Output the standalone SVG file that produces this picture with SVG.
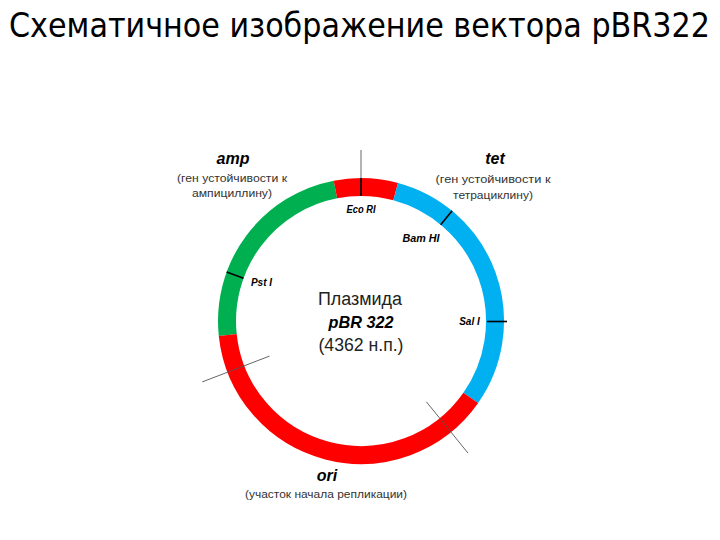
<svg xmlns="http://www.w3.org/2000/svg" width="720" height="540" viewBox="0 0 720 540">
<style>
.ring{fill:none;stroke-width:18}
.tick{stroke:#000;stroke-width:1.6}
.thin{stroke:#555;stroke-width:0.9}
.t{font-family:"Liberation Sans",Arial,sans-serif;fill:#222}
.bi{font-weight:bold;font-style:italic;fill:#000}
.s{font-size:11.5px;fill:#333}
.e{font-size:10px}
</style>
<rect width="720" height="540" fill="#fff"/>
<text x="9" y="37" font-family="DejaVu Sans Condensed, DejaVu Sans, sans-serif" font-size="34" fill="#000" textLength="701" lengthAdjust="spacingAndGlyphs">Схематичное изображение вектора pBR322</text>
<g id="plasmid">
<path class="ring" stroke="#00b050" d="M227.74,335 A134,134 0 0 1 335.43,189.46"/>
<path class="ring" stroke="#ff0000" d="M335.43,189.46 A134,134 0 0 1 395.68,191.57"/>
<path class="ring" stroke="#00b0f0" d="M395.68,191.57 A134,134 0 0 1 470.77,397.86"/>
<path class="ring" stroke="#ff0000" d="M470.77,397.86 A134,134 0 0 1 227.74,335"/>
</g>
<g id="connectors">
<line class="thin" x1="361" y1="150" x2="361" y2="196"/>
<line class="tick" x1="361" y1="178" x2="361" y2="196"/>
<line class="tick" x1="440.7" y1="224.7" x2="452.1" y2="210.8"/>
<line class="tick" x1="487" y1="321.5" x2="507" y2="321.5"/>
<line class="tick" x1="243.5" y1="278.3" x2="226.6" y2="272.1"/>
<line class="thin" x1="269.5" y1="356.1" x2="202.3" y2="381.9"/>
<line class="thin" x1="426.4" y1="401.8" x2="468" y2="453.1"/>
</g>
<g id="amp" class="t" text-anchor="middle">
<text class="bi" x="233" y="164" font-size="16">amp</text>
<text class="s" x="232" y="182" textLength="110" lengthAdjust="spacingAndGlyphs">(ген устойчивости к</text>
<text class="s" x="232" y="197" textLength="80" lengthAdjust="spacingAndGlyphs">ампициллину)</text>
</g>
<g id="tet" class="t" text-anchor="middle">
<text class="bi" x="495" y="164" font-size="16">tet</text>
<text class="s" x="493" y="183" textLength="115" lengthAdjust="spacingAndGlyphs">(ген устойчивости к</text>
<text class="s" x="493" y="199" textLength="80" lengthAdjust="spacingAndGlyphs">тетрациклину)</text>
</g>
<g id="ecori" class="t" text-anchor="middle"><text class="bi e" x="361" y="213" textLength="29" lengthAdjust="spacingAndGlyphs">Eco RI</text></g>
<g id="bamhi" class="t" text-anchor="middle"><text class="bi e" x="421" y="242" textLength="37" lengthAdjust="spacingAndGlyphs">Bam HI</text></g>
<g id="psti" class="t" text-anchor="middle"><text class="bi e" x="261.5" y="286">Pst I</text></g>
<g id="sali" class="t" text-anchor="middle"><text class="bi e" x="469.5" y="325">Sal I</text></g>
<g id="center" class="t" text-anchor="middle">
<text x="360" y="305" font-size="18" textLength="84" lengthAdjust="spacingAndGlyphs">Плазмида</text>
<text class="bi" x="361" y="328" font-size="17" textLength="65" lengthAdjust="spacingAndGlyphs">pBR 322</text>
<text x="361" y="351" font-size="18" textLength="85" lengthAdjust="spacingAndGlyphs">(4362 н.п.)</text>
</g>
<g id="ori" class="t" text-anchor="middle">
<text class="bi" x="327" y="481" font-size="16">ori</text>
<text class="s" x="326" y="498" textLength="162" lengthAdjust="spacingAndGlyphs">(участок начала репликации)</text>
</g>
</svg>
